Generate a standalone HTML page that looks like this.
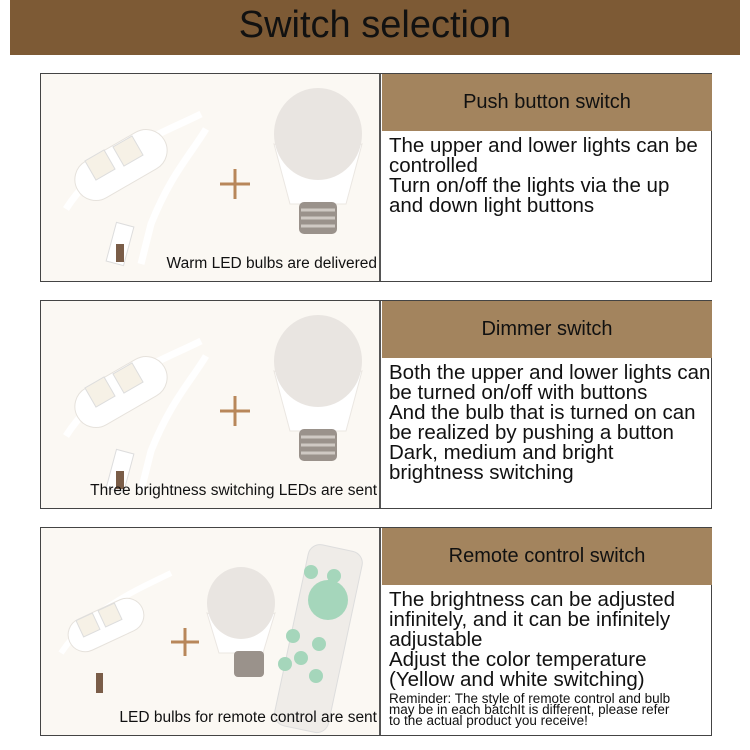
<!DOCTYPE html>
<html><head><meta charset="utf-8"><style>
*{margin:0;padding:0;box-sizing:border-box}
body{width:750px;height:750px;background:#fff;position:relative;overflow:hidden;font-family:"Liberation Sans Narrow","Liberation Sans",sans-serif;color:#111}
.hdr{position:absolute;left:10px;top:0;width:730px;height:55px;background:#7d5a35;text-align:center;font-size:38px;line-height:50px;color:#111}
.panel{position:absolute;left:40px;width:672px;height:209px;border:1px solid #444;background:#fff}
.left{position:absolute;left:0;top:0;width:340px;height:207px;background:#fbf8f3;border-right:2px solid #555}
.band{position:absolute;left:341px;top:0;width:330px;height:57px;background:#a3845e;text-align:center;font-size:20px;line-height:57px}
.txt{position:absolute;left:348px;top:62px;width:325px;font-size:20.5px;line-height:20px;white-space:nowrap}
.cap{position:absolute;right:2px;bottom:8px;font-size:15.5px;white-space:nowrap}
.small{font-size:13.5px;line-height:11px;margin-top:3px}
svg{position:absolute;left:0;top:0}
</style></head><body>
<div class="hdr">Switch selection</div>

<div class="panel" style="top:73px">
 <div class="left">
  <svg width="340" height="207">
   <path d="M25 135 C60 80 120 60 160 40" stroke="#fff" stroke-width="7" fill="none"/>
   <path d="M100 190 L110 150 C130 100 150 80 165 55" stroke="#fff" stroke-width="7" fill="none"/>
   <rect x="30" y="70" width="100" height="42" rx="21" transform="rotate(-30 80 91)" fill="#fff" stroke="#e6e2dc"/>
   <rect x="48" y="80" width="22" height="22" transform="rotate(-30 59 91)" fill="#f6f1e6" stroke="#ddd"/>
   <rect x="76" y="66" width="22" height="22" transform="rotate(-30 87 77)" fill="#f6f1e6" stroke="#ddd"/>
   <rect x="70" y="150" width="18" height="40" transform="rotate(15 79 170)" fill="#fff" stroke="#ddd"/>
   <rect x="75" y="170" width="8" height="18" fill="#7a5d48"/>
   <path d="M194 95v30M179 110h30" stroke="#b8875a" stroke-width="3"/>
   <path d="M233 70 Q277 90 321 70 L305 130 L249 130 Z" fill="#fff" stroke="#ebe7e2"/>
   <ellipse cx="277" cy="60" rx="44" ry="46" fill="#e9e5e1"/>
   <rect x="258" y="128" width="38" height="32" rx="5" fill="#9a928b"/>
   <path d="M260 136h34M260 144h34M260 152h34" stroke="#cfc9c3" stroke-width="3"/>
  </svg>
  <div class="cap">Warm LED bulbs are delivered</div>
 </div>
 <div class="band">Push button switch</div>
 <div class="txt">The upper and lower lights can be<br>controlled<br>Turn on/off the lights via the up<br>and down light buttons</div>
</div>

<div class="panel" style="top:300px">
 <div class="left">
  <svg width="340" height="207">
   <path d="M25 135 C60 80 120 60 160 40" stroke="#fff" stroke-width="7" fill="none"/>
   <path d="M100 190 L110 150 C130 100 150 80 165 55" stroke="#fff" stroke-width="7" fill="none"/>
   <rect x="30" y="70" width="100" height="42" rx="21" transform="rotate(-30 80 91)" fill="#fff" stroke="#e6e2dc"/>
   <rect x="48" y="80" width="22" height="22" transform="rotate(-30 59 91)" fill="#f6f1e6" stroke="#ddd"/>
   <rect x="76" y="66" width="22" height="22" transform="rotate(-30 87 77)" fill="#f6f1e6" stroke="#ddd"/>
   <rect x="70" y="150" width="18" height="40" transform="rotate(15 79 170)" fill="#fff" stroke="#ddd"/>
   <rect x="75" y="170" width="8" height="18" fill="#7a5d48"/>
   <path d="M194 95v30M179 110h30" stroke="#b8875a" stroke-width="3"/>
   <path d="M233 70 Q277 90 321 70 L305 130 L249 130 Z" fill="#fff" stroke="#ebe7e2"/>
   <ellipse cx="277" cy="60" rx="44" ry="46" fill="#e9e5e1"/>
   <rect x="258" y="128" width="38" height="32" rx="5" fill="#9a928b"/>
   <path d="M260 136h34M260 144h34M260 152h34" stroke="#cfc9c3" stroke-width="3"/>
  </svg>
  <div class="cap">Three brightness switching LEDs are sent</div>
 </div>
 <div class="band">Dimmer switch</div>
 <div class="txt">Both the upper and lower lights can<br>be turned on/off with buttons<br>And the bulb that is turned on can<br>be realized by pushing a button<br>Dark, medium and bright<br>brightness switching</div>
</div>

<div class="panel" style="top:527px">
 <div class="left">
  <svg width="340" height="207">
   <path d="M20 125 C50 80 100 60 130 45" stroke="#fff" stroke-width="6" fill="none"/>
   <rect x="25" y="80" width="80" height="34" rx="17" transform="rotate(-25 65 97)" fill="#fff" stroke="#e6e2dc"/>
   <rect x="38" y="88" width="18" height="18" transform="rotate(-25 47 97)" fill="#f6f1e6" stroke="#ddd"/>
   <rect x="60" y="78" width="18" height="18" transform="rotate(-25 69 87)" fill="#f6f1e6" stroke="#ddd"/>
   <rect x="55" y="145" width="7" height="20" fill="#7a5d48"/>
   <path d="M144 100v28M130 114h28" stroke="#b8875a" stroke-width="3"/>
   <path d="M166 85 Q200 100 234 85 L222 125 L178 125 Z" fill="#fff" stroke="#ebe7e2"/>
   <ellipse cx="200" cy="75" rx="34" ry="36" fill="#e9e5e1"/>
   <rect x="193" y="123" width="30" height="26" rx="4" fill="#9a928b"/>
   <rect x="250" y="18" width="55" height="185" rx="12" transform="rotate(12 277 110)" fill="#efece8" stroke="#ddd"/>
   <circle cx="287" cy="72" r="20" fill="#a5d6bb"/>
   <circle cx="270" cy="44" r="7" fill="#a5d6bb"/><circle cx="293" cy="48" r="7" fill="#a5d6bb"/>
   <circle cx="252" cy="108" r="7" fill="#a5d6bb"/><circle cx="278" cy="116" r="7" fill="#a5d6bb"/>
   <circle cx="260" cy="130" r="7" fill="#a5d6bb"/><circle cx="244" cy="136" r="7" fill="#a5d6bb"/><circle cx="275" cy="148" r="7" fill="#a5d6bb"/>
  </svg>
  <div class="cap">LED bulbs for remote control are sent</div>
 </div>
 <div class="band">Remote control switch</div>
 <div class="txt">The brightness can be adjusted<br>infinitely, and it can be infinitely<br>adjustable<br>Adjust the color temperature<br>(Yellow and white switching)
 <div class="small">Reminder: The style of remote control and bulb<br>may be in each batchIt is different, please refer<br>to the actual product you receive!</div></div>
</div>
</body></html>
